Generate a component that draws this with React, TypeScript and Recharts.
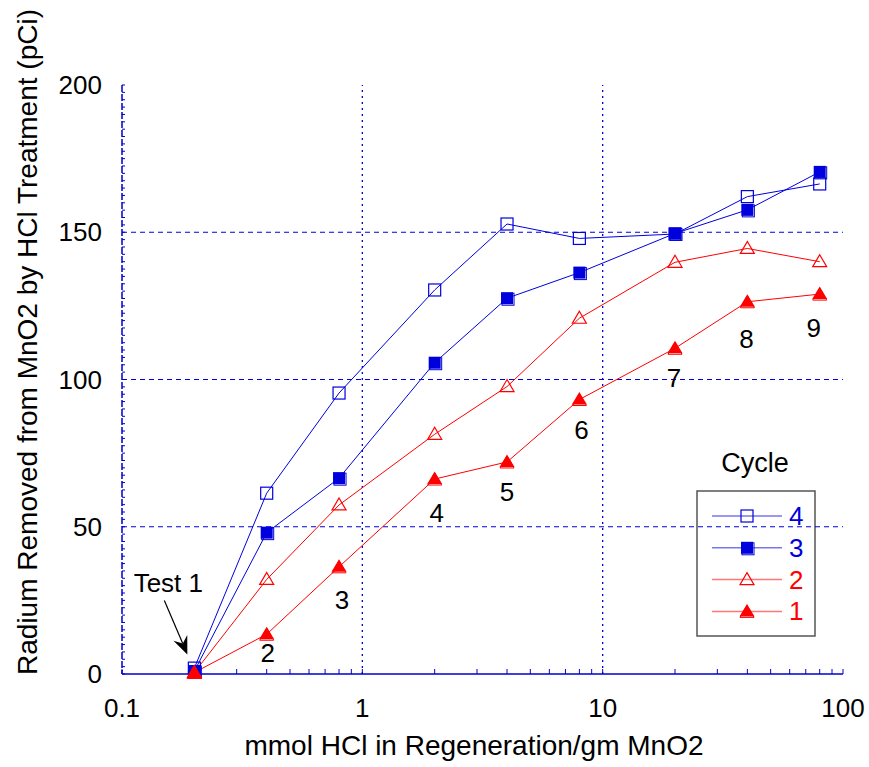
import { LineChart, Line, XAxis, YAxis, ReferenceLine, LabelList, Customized } from 'recharts'

// mmol HCl per gm MnO2 (log axis)
const HCL = [0.2, 0.4, 0.8, 2, 4, 8, 20, 40, 80]
// Radium removed (pCi), one array per regeneration cycle
const CYCLE_4 = [2, 61.4, 95.4, 130.4, 152.8, 147.9, 149.4, 162.1, 166.4]
const CYCLE_3 = [1, 48, 66.5, 105.7, 127.6, 136.3, 149.6, 157.6, 170.5]
const CYCLE_2 = [0.5, 32.1, 57.4, 81.4, 97.6, 120.8, 139.8, 144.5, 140]
const CYCLE_1 = [0.5, 13.5, 36.4, 66.2, 72, 93.2, 110.6, 126.4, 129]
const TEST_NOTES = ['Test 1', '2', '3', '4', '5', '6', '7', '8', '9']

const X_MAJOR = [0.1, 1, 10, 100]
const X_MINOR = [
  0.2, 0.3, 0.4, 0.5, 0.6, 0.7, 0.8, 0.9,
  2, 3, 4, 5, 6, 7, 8, 9,
  20, 30, 40, 50, 60, 70, 80, 90,
]
const Y_MAJOR = [0, 50, 100, 150, 200]
const Y_GRID = [50, 100, 150]
const X_GRID = [1, 10]
const LEGEND_LABELS = ['4', '3', '2', '1']

const X_TICKS = [...X_MAJOR, ...X_MINOR].sort((a, b) => a - b)
const Y_TICKS = Array.from({ length: 81 }, (_, i) => i * 2.5)

const rows = HCL.map((x, i) => ({
  x,
  c4: CYCLE_4[i],
  c3: CYCLE_3[i],
  c2: CYCLE_2[i],
  c1: CYCLE_1[i],
  note: TEST_NOTES[i],
}))

const FONT = '"Liberation Sans", Arial, sans-serif'
const BLUE = '#0000dd'
const RED = '#ff0000'
const FRAME = '#0000cc'

type Shape = 'openSquare' | 'square' | 'openTriangle' | 'triangle'

function Marker({ cx, cy, shape, color }: { cx: number; cy: number; shape: Shape; color: string }) {
  switch (shape) {
    case 'openSquare':
      return <rect x={cx - 6} y={cy - 6} width={12} height={12} fill="none" stroke={color} strokeWidth={1.2} />
    case 'square':
      return (
        <g>
          <rect x={cx - 5} y={cy - 5} width={12} height={12} fill="none" stroke={color} strokeWidth={1} />
          <rect x={cx - 6} y={cy - 6} width={12} height={12} fill={color} />
        </g>
      )
    case 'openTriangle':
      return <path d={`M${cx},${cy - 7} L${cx + 7},${cy + 5} L${cx - 7},${cy + 5} Z`} fill="none" stroke={color} strokeWidth={1.2} />
    default:
      return (
        <g>
          <path d={`M${cx},${cy - 6} L${cx + 7},${cy + 6} L${cx - 7},${cy + 6} Z`} fill="none" stroke={color} strokeWidth={1} />
          <path d={`M${cx},${cy - 7.5} L${cx + 7.5},${cy + 5} L${cx - 7.5},${cy + 5} Z`} fill={color} />
        </g>
      )
  }
}

const dotOf = (shape: Shape, color: string) => (p: any) => (
  <Marker key={`${shape}-${p.index}`} cx={p.cx} cy={p.cy} shape={shape} color={color} />
)

// offsets of the test-number labels from cycle 1 points
const NOTE_DX = [0, 1, 3, 2, 0, 2, -1, -1, -6]
const NOTE_DY = [0, 19, 33, 34, 30, 30, 30, 37, 34]

function TestNote(props: any) {
  const { x, y, value, index } = props
  if (index === 0) {
    return (
      <g>
        <text x={x - 26} y={y - 81} textAnchor="middle" fontSize={26} fontFamily={FONT} fill="#000">
          {value}
        </text>
        <line x1={x - 30} y1={y - 72} x2={x - 11.6} y2={y - 29} stroke="#000" strokeWidth={1.2} />
        <path
          d={`M${x - 7},${y - 18} L${x - 20.9},${y - 31.7} L${x - 11.6},${y - 29} L${x - 7.1},${y - 37.5} Z`}
          fill="#000"
        />
      </g>
    )
  }
  return (
    <text
      x={x + NOTE_DX[index]}
      y={y + NOTE_DY[index]}
      textAnchor="middle"
      dominantBaseline="central"
      fontSize={26}
      fontFamily={FONT}
      fill="#000"
    >
      {value}
    </text>
  )
}

function Titles() {
  return (
    <g fontFamily={FONT} fontSize={28} fill="#000">
      <text x={466} y={747} textAnchor="middle">
        mmol HCl in Regeneration/gm MnO2
      </text>
      <text x={29} y={334} textAnchor="middle" transform="rotate(-90 29 334)">
        Radium Removed from MnO2 by HCl Treatment (pCi)
      </text>
    </g>
  )
}

function CycleLegend() {
  const entries: { shape: Shape; color: string; tint: string }[] = [
    { shape: 'openSquare', color: BLUE, tint: '#7777ee' },
    { shape: 'square', color: BLUE, tint: '#7777ee' },
    { shape: 'openTriangle', color: RED, tint: '#ff7777' },
    { shape: 'triangle', color: RED, tint: '#ff7777' },
  ]
  return (
    <g fontFamily={FONT}>
      <text x={747} y={455} textAnchor="middle" dominantBaseline="central" fontSize={27} fill="#000">
        Cycle
      </text>
      <rect x={689} y={483} width={118} height={145} fill="#fff" stroke="#555" strokeWidth={1.5} />
      {entries.map((e, i) => {
        const cy = 508 + i * 31.8
        return (
          <g key={i}>
            <line x1={704} x2={774} y1={cy} y2={cy} stroke={e.tint} strokeWidth={1.5} />
            <Marker cx={739} cy={cy} shape={e.shape} color={e.color} />
            <text x={781} y={cy} dominantBaseline="central" fontSize={26} fill={e.color}>
              {LEGEND_LABELS[i]}
            </text>
          </g>
        )
      })}
    </g>
  )
}

const tickStyle = { fill: '#000', fontSize: 26, fontFamily: FONT }

export default function App() {
  return (
    <div style={{ position: 'absolute', left: 8, top: 8, width: 861, height: 759 }}>
      <LineChart width={861} height={759} data={rows} margin={{ top: 77, right: 26, bottom: 0, left: 0 }}>
        <XAxis
          xAxisId="b"
          dataKey="x"
          type="number"
          scale="log"
          domain={[0.1, 100]}
          ticks={X_TICKS}
          interval={0}
          tickFormatter={(v: number) => (X_MAJOR.includes(v) ? String(v) : '')}
          tick={tickStyle}
          tickSize={-5}
          tickMargin={30}
          height={93}
          stroke={FRAME}
          axisLine={{ stroke: FRAME, strokeWidth: 1.5 }}
        />
        <XAxis
          xAxisId="t"
          orientation="top"
          type="number"
          scale="log"
          domain={[0.1, 100]}
          allowDataOverflow
          ticks={X_TICKS}
          interval={0}
          tick={false}
          tickSize={-5}
          height={0}
          stroke={FRAME}
          axisLine={{ stroke: FRAME, strokeWidth: 1.5, strokeDasharray: '7 2' }}
        />
        <YAxis
          yAxisId="l"
          type="number"
          domain={[0, 200]}
          ticks={Y_TICKS}
          interval={0}
          tickFormatter={(v: number) => (Y_MAJOR.includes(v) ? String(v) : '')}
          tick={tickStyle}
          tickSize={-3}
          tickMargin={23}
          width={114}
          stroke={FRAME}
          axisLine={{ stroke: FRAME, strokeWidth: 1.5, strokeDasharray: '7 2' }}
        />
        <YAxis
          yAxisId="r"
          orientation="right"
          type="number"
          domain={[0, 200]}
          allowDataOverflow
          ticks={Y_TICKS}
          interval={0}
          tick={false}
          tickSize={-3}
          width={0}
          stroke={FRAME}
          axisLine={{ stroke: FRAME, strokeWidth: 1.5, strokeDasharray: '7 2' }}
        />
        {Y_GRID.map((v) => (
          <ReferenceLine key={`h${v}`} xAxisId="b" yAxisId="l" y={v} stroke={BLUE} strokeDasharray="5 4" />
        ))}
        {X_GRID.map((v) => (
          <ReferenceLine key={`v${v}`} xAxisId="b" yAxisId="l" x={v} stroke={BLUE} strokeWidth={1.3} strokeDasharray="2 4" />
        ))}
        <Line xAxisId="b" yAxisId="l" dataKey="c4" stroke={BLUE} strokeWidth={1} dot={dotOf('openSquare', BLUE)} activeDot={false} isAnimationActive={false} />
        <Line xAxisId="b" yAxisId="l" dataKey="c3" stroke={BLUE} strokeWidth={1} dot={dotOf('square', BLUE)} activeDot={false} isAnimationActive={false} />
        <Line xAxisId="b" yAxisId="l" dataKey="c2" stroke={RED} strokeWidth={1} dot={dotOf('openTriangle', RED)} activeDot={false} isAnimationActive={false} />
        <Line xAxisId="b" yAxisId="l" dataKey="c1" stroke={RED} strokeWidth={1} dot={dotOf('triangle', RED)} activeDot={false} isAnimationActive={false}>
          <LabelList dataKey="note" content={TestNote} />
        </Line>
        <Customized component={<Titles />} />
        <Customized component={<CycleLegend />} />
      </LineChart>
    </div>
  )
}
